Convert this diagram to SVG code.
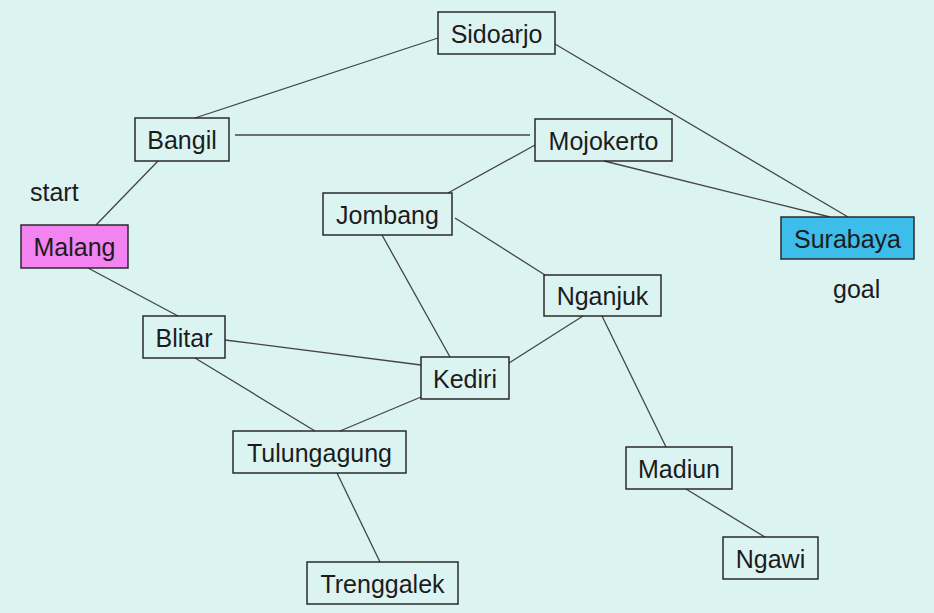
<svg xmlns="http://www.w3.org/2000/svg" width="934" height="613" viewBox="0 0 934 613">
<style>
.bg{fill:#dcf4f1}
.n rect{fill:none;stroke:#2a2a2a;stroke-width:1.5}
.n text{font-family:"Liberation Sans",Arial,sans-serif;font-size:25px;fill:#1c1c1c;text-anchor:middle}
.lbl{font-family:"Liberation Sans",Arial,sans-serif;font-size:25px;fill:#1c1c1c}
#edges line{stroke:#444;stroke-width:1.3}
</style>
<rect class="bg" x="0" y="0" width="934" height="613"/>
<g id="edges">
<line x1="195" y1="118" x2="438" y2="38"/>
<line x1="235" y1="135" x2="530" y2="135"/>
<line x1="96" y1="225" x2="158" y2="161"/>
<line x1="88" y1="268" x2="178" y2="316"/>
<line x1="555" y1="44" x2="848" y2="217"/>
<line x1="604" y1="161" x2="830" y2="217"/>
<line x1="535" y1="145" x2="448" y2="193"/>
<line x1="455" y1="218" x2="545" y2="275"/>
<line x1="382" y1="235" x2="450" y2="357"/>
<line x1="225" y1="340" x2="421" y2="365"/>
<line x1="195" y1="358" x2="315" y2="431"/>
<line x1="421" y1="397" x2="340" y2="431"/>
<line x1="337" y1="473" x2="380" y2="562"/>
<line x1="583" y1="316" x2="509" y2="363"/>
<line x1="602" y1="316" x2="666" y2="447"/>
<line x1="686" y1="489" x2="765" y2="537"/>
</g>
<g id="sidoarjo" class="n"><rect x="438" y="12" width="117" height="42"/><text x="496.5" y="42.5">Sidoarjo</text></g>
<g id="bangil" class="n"><rect x="135" y="118" width="94" height="43"/><text x="182" y="149">Bangil</text></g>
<g id="mojokerto" class="n"><rect x="535" y="119" width="137" height="42"/><text x="603.5" y="149.5">Mojokerto</text></g>
<g id="malang" class="n"><rect x="21" y="225" width="107" height="43" style="fill:#f283f0"/><text x="74.5" y="256">Malang</text></g>
<g id="jombang" class="n"><rect x="323" y="193" width="129" height="42"/><text x="387.5" y="223.5">Jombang</text></g>
<g id="surabaya" class="n"><rect x="781" y="217" width="133" height="42" style="fill:#3cbdea"/><text x="847.5" y="247.5">Surabaya</text></g>
<g id="nganjuk" class="n"><rect x="544" y="275" width="117" height="41"/><text x="602.5" y="305">Nganjuk</text></g>
<g id="blitar" class="n"><rect x="143" y="316" width="82" height="42"/><text x="184" y="346.5">Blitar</text></g>
<g id="kediri" class="n"><rect x="421" y="357" width="88" height="42"/><text x="465" y="387.5">Kediri</text></g>
<g id="tulungagung" class="n"><rect x="233" y="431" width="173" height="42"/><text x="319.5" y="461.5">Tulungagung</text></g>
<g id="madiun" class="n"><rect x="626" y="447" width="106" height="42"/><text x="679" y="477.5">Madiun</text></g>
<g id="ngawi" class="n"><rect x="723" y="537" width="95" height="42"/><text x="770.5" y="567.5">Ngawi</text></g>
<g id="trenggalek" class="n"><rect x="307" y="562" width="151" height="42"/><text x="382.5" y="592.5">Trenggalek</text></g>
<text class="lbl" x="30" y="201">start</text>
<text class="lbl" x="833" y="298">goal</text>
</svg>
